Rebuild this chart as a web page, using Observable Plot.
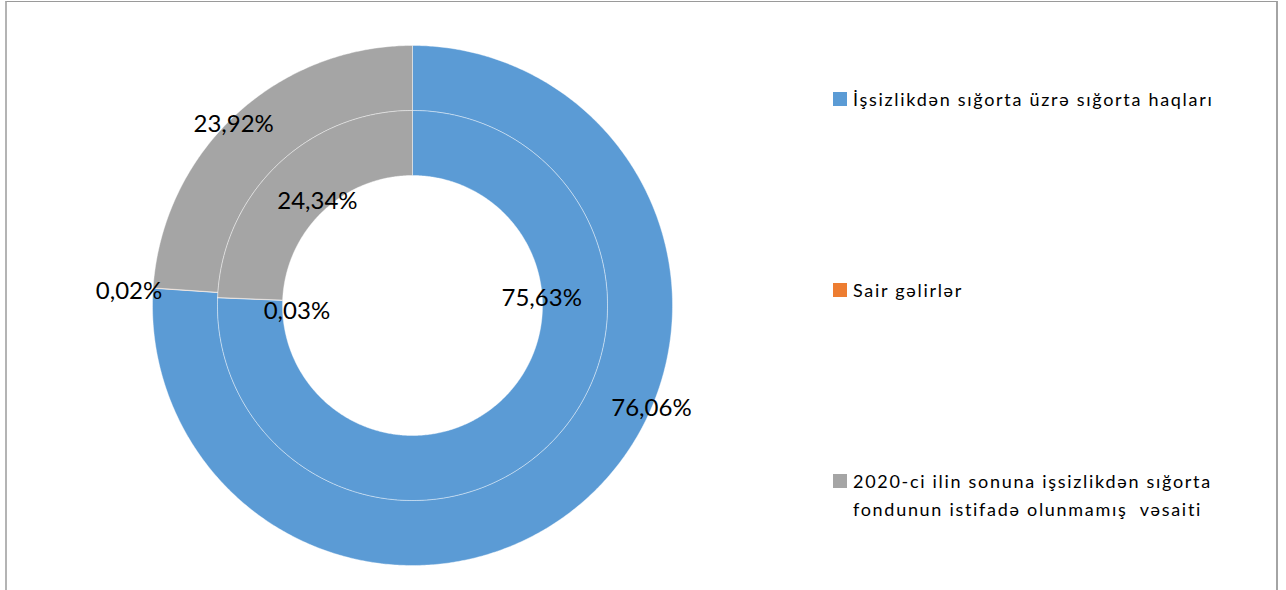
<!DOCTYPE html>
<html>
<head>
<meta charset="utf-8">
<script src="https://cdn.jsdelivr.net/npm/d3@7"></script>
<script src="https://cdn.jsdelivr.net/npm/@observablehq/plot@0.6"></script>
<style>
  html, body { margin: 0; padding: 0; background: #fff; }
  #wrap { position: relative; width: 1286px; height: 590px; overflow: hidden; font-family: Lato, "Open Sans", sans-serif; }
  #frame { position: absolute; left: 5px; top: 1px; width: 1273px; height: 600px; box-sizing: border-box;
           border-top: 1px solid #9a9a9a; border-left: 2px solid #b4b4b4; border-right: 2px solid #a4a4a4; pointer-events: none; }
  #chart { position: absolute; left: 0; top: 0; }
  .item { position: absolute; left: 833px; display: flex; align-items: flex-start; font-size: 18px; line-height: 28px; color: #000; letter-spacing: 1.7px; }
  .sw { width: 14px; height: 14px; margin-top: 7px; margin-right: 6px; flex: none; }
  .txt { width: 372px; white-space: pre-wrap; }
</style>
</head>
<body>
<div id="wrap"><div id="chart"></div><div id="legend"></div><div id="frame"></div></div>
<script>
// ---- data ----
const categories = [
  "İşsizlikdən sığorta üzrə sığorta haqları",
  "Sair gəlirlər",
  "2020-ci ilin sonuna işsizlikdən sığorta fondunun istifadə olunmamış  vəsaiti"
];
const colors = ["#5B9BD5", "#ED7D31", "#A5A5A5"];
const outerValues = [76.06, 0.02, 23.92];   // outer ring, %
const innerValues = [75.63, 0.03, 24.34];   // inner ring, %

// ---- geometry (layout) ----
const W = 1286, H = 590;
const cx = 412, cy = 305, Rpx = 260;           // centre and outer radius in pixels
const rings = {outer: [0.75, 1.0], inner: [0.5, 0.75]};
const labelR = {outer: 0.985, inner: 0.545};
// pixel nudges applied to the data-derived label anchors
const nudge = {
  outer: [[64, -84], [-28, 3], [-4, 6]],
  inner: [[31, -109], [26, 12], [3, -2]]
};

function ringPolys(values, ring) {
  const [r0, r1] = rings[ring];
  const pts = [];
  let cum = 0;
  values.forEach((v, i) => {
    const a0 = cum / 100 * 2 * Math.PI, a1 = (cum + v) / 100 * 2 * Math.PI;
    cum += v;
    const n = Math.max(2, Math.ceil((a1 - a0) / (Math.PI / 360)));
    const id = ring + i;
    const seg = [];
    for (let k = 0; k <= n; k++) { const a = a0 + (a1 - a0) * k / n; seg.push({x: r1 * Math.sin(a), y: r1 * Math.cos(a)}); }
    for (let k = n; k >= 0; k--) { const a = a0 + (a1 - a0) * k / n; seg.push({x: r0 * Math.sin(a), y: r0 * Math.cos(a)}); }
    seg.push(seg[0]);
    seg.forEach(p => pts.push({...p, id, cat: categories[i]}));
  });
  return pts;
}

function ringLabels(values, ring) {
  const out = [];
  let cum = 0;
  values.forEach((v, i) => {
    const am = (cum + v / 2) / 100 * 2 * Math.PI;
    cum += v;
    const r = labelR[ring];
    out.push({
      x: r * Math.sin(am) + nudge[ring][i][0] / Rpx,
      y: r * Math.cos(am) - nudge[ring][i][1] / Rpx,
      text: v.toFixed(2).replace(".", ",") + "%"
    });
  });
  return out;
}

const polys = [...ringPolys(outerValues, "outer"), ...ringPolys(innerValues, "inner")];
const labels = [...ringLabels(outerValues, "outer"), ...ringLabels(innerValues, "inner")];

const plot = Plot.plot({
  width: W, height: H,
  marginTop: 0, marginRight: 0, marginBottom: 0, marginLeft: 0,
  x: {domain: [-cx / Rpx, (W - cx) / Rpx], axis: null},
  y: {domain: [-(H - cy) / Rpx, cy / Rpx], axis: null},
  color: {domain: categories, range: colors},
  style: {background: "transparent", fontFamily: "Lato, 'Open Sans', sans-serif"},
  marks: [
    Plot.line(polys, {x: "x", y: "y", z: "id", fill: "cat", stroke: "white", strokeWidth: 0.5, strokeOpacity: 0.8, curve: "linear"}),
    Plot.text(labels, {x: "x", y: "y", text: "text", fontSize: 24, fill: "#000", textAnchor: "middle"})
  ]
});
document.getElementById("chart").appendChild(plot);

// ---- legend ----
const legend = document.getElementById("legend");
categories.forEach((c, i) => {
  const item = document.createElement("div");
  item.className = "item";
  item.style.top = (85 + 191 * i) + "px";
  item.innerHTML = `<div class="sw" style="background:${colors[i]}"></div><div class="txt"></div>`;
  item.querySelector(".txt").textContent = c;
  legend.appendChild(item);
});
</script>
</body>
</html>
